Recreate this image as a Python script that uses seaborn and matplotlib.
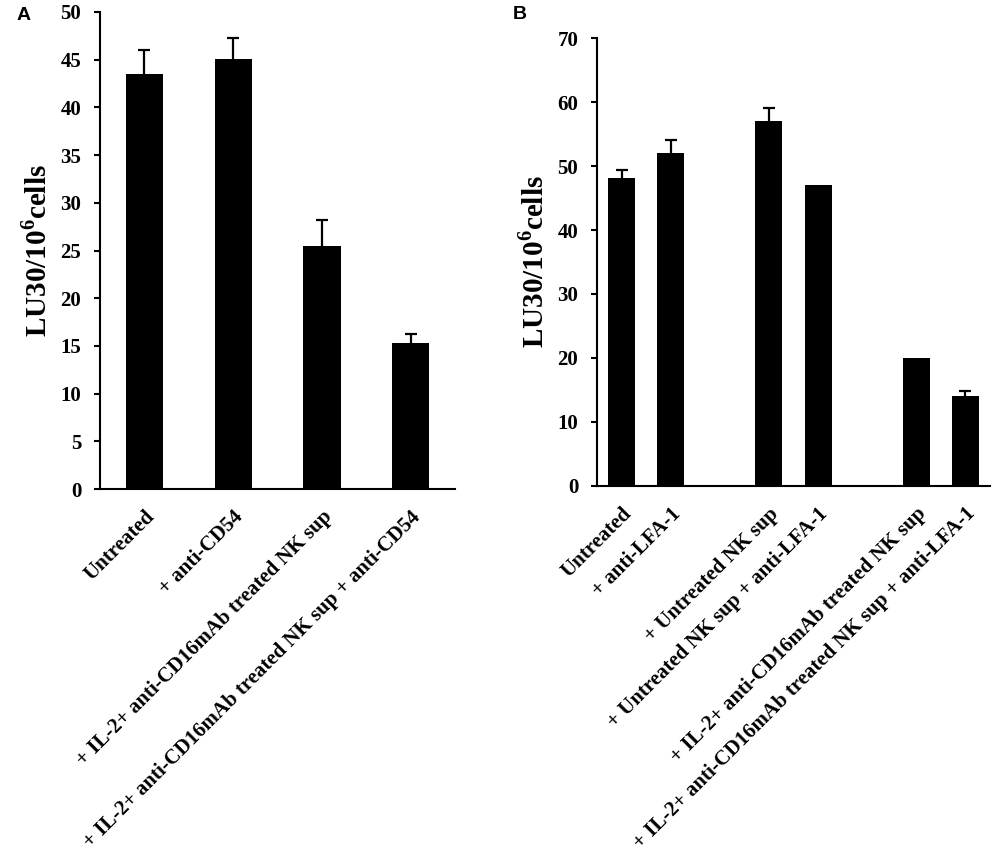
import seaborn as sns
import matplotlib.pyplot as plt
import numpy as np
import pandas as pd

# panel A
a_groups = ["Untreated", "+ anti-CD54",
            "+ IL-2+ anti-CD16mAb treated NK sup",
            "+ IL-2+ anti-CD16mAb treated NK sup + anti-CD54"]
a_values = [43.5, 45.1, 25.5, 15.3]
a_errors = [2.5, 2.2, 2.7, 0.9]

# panel B (two blank slots separate the groups)
b_groups = ["Untreated", "+ anti-LFA-1",
            "+ Untreated NK sup", "+ Untreated NK sup + anti-LFA-1",
            "+ IL-2+ anti-CD16mAb treated NK sup",
            "+ IL-2+ anti-CD16mAb treated NK sup + anti-LFA-1"]
b_values = [48.1, 52.1, 57.1, 47.0, 20.0, 14.1]
b_errors = [1.3, 2.0, 2.0, 0.0, 0.0, 0.7]
b_order = [b_groups[0], b_groups[1], " ", b_groups[2], b_groups[3], "  ",
           b_groups[4], b_groups[5]]

sns.set_style("ticks")
plt.rcParams['font.family'] = ['Liberation Serif', 'DejaVu Serif']
plt.rcParams['font.weight'] = 'bold'
plt.rcParams['axes.linewidth'] = 1.5
plt.rcParams['text.color'] = 'black'
plt.rcParams['axes.labelcolor'] = 'black'
plt.rcParams['xtick.color'] = 'black'
plt.rcParams['ytick.color'] = 'black'
plt.rcParams['axes.edgecolor'] = 'black'
plt.rcParams['mathtext.fontset'] = 'custom'
plt.rcParams['mathtext.bf'] = 'Liberation Serif:bold'
plt.rcParams['mathtext.rm'] = 'Liberation Serif:bold'

fig = plt.figure(figsize=(9.92, 8.56), dpi=100)
axA = fig.add_axes([0.1008, 0.4287, 0.358, 0.5573])
axB = fig.add_axes([0.6018, 0.4326, 0.3962, 0.5227])


def panel(ax, groups, values, errors, order, width, ymax, ystep):
    df = pd.DataFrame({"group": groups, "value": values})
    sns.barplot(data=df, x="group", y="value", order=order, color="black",
                saturation=1, width=width, errorbar=None, ax=ax,
                edgecolor="black", linewidth=0)
    # upper-only error bars, none drawn where the error is zero
    for g, v, e in zip(groups, values, errors):
        if e <= 0:
            continue
        p = order.index(g)
        ax.vlines(p, v, v + e, color="black", linewidth=1.6)
        ax.plot([p], [v + e], marker="_", markersize=9, markeredgewidth=1.6,
                color="black")
    ax.set_xlim(-0.5, len(order) - 0.5)
    ax.set_ylim(0, ymax)
    ax.set_yticks(np.arange(0, ymax + 1, ystep))
    ax.tick_params(axis="y", length=4.5, width=1.5, labelsize=15, pad=9)
    ax.tick_params(axis="x", length=0, labelsize=15, pad=13)
    labels = [g if g.strip() else "" for g in order]
    ax.set_xticks(range(len(order)))
    ax.set_xticklabels(labels, rotation=45, ha="right", rotation_mode="anchor",
                       fontweight="bold")
    for t in ax.get_yticklabels():
        t.set_fontweight("bold")
    ax.set_xlabel("")
    ax.set_ylabel("LU30/10$^{\\mathbf{6}}$cells", fontsize=21, fontweight="bold",
                  labelpad=6)
    sns.despine(ax=ax)


panel(axA, a_groups, a_values, a_errors, a_groups, 0.42, 50, 5)
panel(axB, b_groups, b_values, b_errors, b_order, 0.55, 70, 10)

fig.text(0.017, 0.977, "A", family="Liberation Sans", fontweight="bold", fontsize=14)
fig.text(0.517, 0.978, "B", family="Liberation Sans", fontweight="bold", fontsize=14)

fig.savefig("out.png", dpi=100)
